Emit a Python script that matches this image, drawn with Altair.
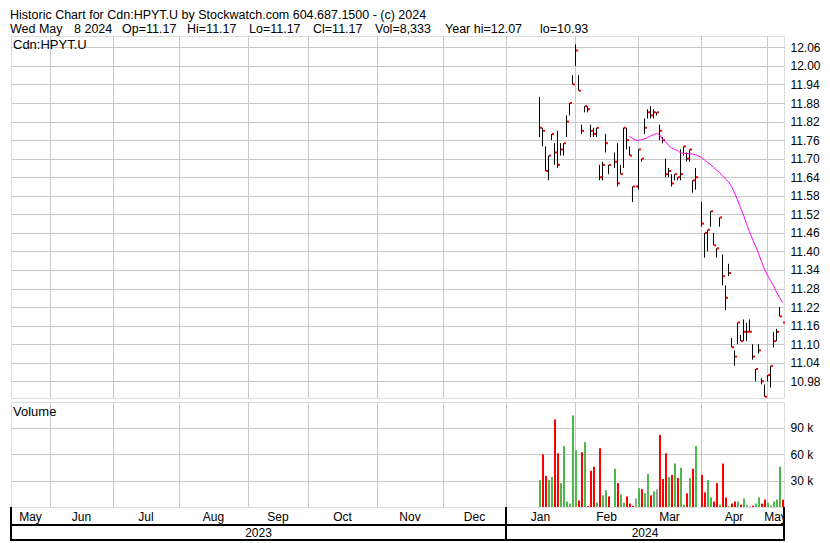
import numpy as np
import pandas as pd
import altair as alt

FONT = "Arial"
GRID = "#c8c8c8"

# ---------------- data ----------------
dates = [
    "2024-01-16", "2024-01-17", "2024-01-18", "2024-01-19", "2024-01-22", "2024-01-23",
    "2024-01-24", "2024-01-25", "2024-01-26", "2024-01-29", "2024-01-30", "2024-01-31",
    "2024-02-01", "2024-02-02", "2024-02-05", "2024-02-06", "2024-02-07", "2024-02-08",
    "2024-02-09", "2024-02-12", "2024-02-13", "2024-02-14", "2024-02-15", "2024-02-16",
    "2024-02-20", "2024-02-21", "2024-02-22", "2024-02-23", "2024-02-26", "2024-02-27",
    "2024-02-28", "2024-02-29",
    "2024-03-01", "2024-03-04", "2024-03-05", "2024-03-06", "2024-03-07", "2024-03-08",
    "2024-03-11", "2024-03-12", "2024-03-13", "2024-03-14", "2024-03-15", "2024-03-18",
    "2024-03-19", "2024-03-20", "2024-03-21", "2024-03-22", "2024-03-25", "2024-03-26",
    "2024-03-27", "2024-03-28",
    "2024-04-01", "2024-04-02", "2024-04-03", "2024-04-04", "2024-04-05", "2024-04-08",
    "2024-04-09", "2024-04-10", "2024-04-11", "2024-04-12", "2024-04-15", "2024-04-16",
    "2024-04-17", "2024-04-18", "2024-04-19", "2024-04-22", "2024-04-23", "2024-04-24",
    "2024-04-25", "2024-04-26", "2024-04-29", "2024-04-30",
    "2024-05-01", "2024-05-02", "2024-05-03", "2024-05-06", "2024-05-07", "2024-05-08",
]

high = [11.90, 11.80, 11.74, 11.71, 11.78, 11.75, 11.79, 11.75, 11.75, 11.84, 11.88, 11.97,
        12.07, 11.97, 11.81, 11.87, 11.87, 11.81, 11.80, 11.80, 11.68, 11.69, 11.78, 11.68,
        11.72, 11.75, 11.68, 11.80, 11.80, 11.74, 11.61, 11.61,
        11.73, 11.70, 11.83, 11.86, 11.87, 11.86, 11.85, 11.81, 11.77, 11.70, 11.67, 11.65,
        11.65, 11.64, 11.73, 11.74, 11.72, 11.73, 11.63, 11.67,
        11.56, 11.46, 11.47, 11.53, 11.46, 11.41, 11.51, 11.39, 11.29, 11.36, 11.12, 11.08,
        11.17, 11.13, 11.18, 11.17, 11.18, 11.10, 11.02, 11.10, 10.99, 10.97,
        11.00, 11.03, 11.14, 11.15, 11.22, 11.17]

low = [11.77, 11.74, 11.66, 11.63, 11.76, 11.68, 11.67, 11.71, 11.71, 11.77, 11.84, 11.94,
       12.00, 11.92, 11.78, 11.85, 11.85, 11.77, 11.77, 11.77, 11.63, 11.63, 11.72, 11.65,
       11.67, 11.61, 11.65, 11.67, 11.73, 11.71, 11.56, 11.61,
       11.60, 11.69, 11.78, 11.83, 11.83, 11.83, 11.84, 11.76, 11.75, 11.64, 11.64, 11.61,
       11.63, 11.63, 11.63, 11.71, 11.69, 11.69, 11.59, 11.60,
       11.48, 11.38, 11.40, 11.48, 11.42, 11.38, 11.48, 11.29, 11.21, 11.32, 11.09, 11.03,
       11.10, 11.11, 11.11, 11.11, 11.14, 11.05, 10.98, 11.07, 10.97, 10.93,
       10.98, 10.96, 11.09, 11.11, 11.19, 11.17]

close = [11.80, 11.79, 11.66, 11.71, 11.78, 11.72, 11.68, 11.73, 11.75, 11.82, 11.88, 11.94,
         12.05, 11.92, 11.79, 11.87, 11.86, 11.79, 11.78, 11.80, 11.64, 11.68, 11.75, 11.68,
         11.69, 11.62, 11.65, 11.80, 11.76, 11.71, 11.61, 11.61,
         11.73, 11.70, 11.80, 11.85, 11.84, 11.85, 11.85, 11.79, 11.76, 11.65, 11.66, 11.62,
         11.65, 11.64, 11.65, 11.74, 11.70, 11.73, 11.63, 11.64,
         11.49, 11.46, 11.47, 11.53, 11.42, 11.41, 11.51, 11.32, 11.25, 11.33, 11.09, 11.06,
         11.17, 11.11, 11.14, 11.14, 11.14, 11.06, 11.02, 11.08, 10.98, 10.93,
         11.00, 11.03, 11.11, 11.14, 11.19, 11.17]

volume = [30600, 59600, 35200, 30600, 34100, 99100, 60800, 27100, 68900, 6200, 3900, 103700,
          64300, 7400, 61900, 73500, 1000, 41000, 45700, 5000, 66600, 13200, 19000, 12000,
          43400, 27100, 14300, 5000, 12000, 3900, 1200, 9700,
          21300, 20100, 15500, 37500, 13200, 17800, 20100, 81700, 31700, 60800, 34100, 36400,
          49200, 32900, 44500, 2700, 15500, 32900, 43400, 68900,
          36400, 16600, 30600, 10800, 6200, 27100, 2700, 49200, 10800, 800, 3900, 6200,
          6200, 2700, 9700, 2700, 800, 1500, 3900, 10800, 3900, 8500,
          5000, 1500, 6200, 8500, 45700, 8333]

direction = ["up", "down", "down", "up", "up", "down", "down", "up", "up", "up", "up", "up",
             "up", "down", "down", "up", "down", "down", "down", "up", "down", "up", "up", "down",
             "up", "down", "up", "up", "down", "down", "down", "flat",
             "up", "down", "up", "up", "down", "up", "flat", "down", "down", "down", "up", "down",
             "up", "down", "up", "up", "down", "up", "down", "up",
             "down", "down", "up", "up", "down", "down", "up", "down", "down", "up", "down", "down",
             "up", "down", "up", "flat", "flat", "down", "up", "up", "down", "down",
             "up", "up", "up", "up", "up", "down"]

# moving average (magenta), from 2024-02-27 to the last day
ma_values = [11.772, 11.766, 11.760,
             11.759, 11.761, 11.764, 11.768, 11.773, 11.778, 11.781, 11.778, 11.762, 11.755,
             11.743, 11.735, 11.731, 11.726, 11.719, 11.717, 11.717, 11.716, 11.715, 11.713,
             11.704, 11.696, 11.688, 11.681, 11.672, 11.663, 11.656, 11.645, 11.634, 11.625,
             11.610, 11.590, 11.567, 11.542, 11.518, 11.490, 11.464, 11.440, 11.418, 11.394,
             11.367, 11.343,
             11.323, 11.306, 11.289, 11.269, 11.251, 11.235]

price_ticks = [10.98, 11.04, 11.10, 11.16, 11.22, 11.28, 11.34, 11.40, 11.46, 11.52,
               11.58, 11.64, 11.70, 11.76, 11.82, 11.88, 11.94, 12.00, 12.06]
volume_ticks = [30000, 60000, 90000]

month_names = ["May", "Jun", "Jul", "Aug", "Sep", "Oct", "Nov", "Dec",
               "Jan", "Feb", "Mar", "Apr", "May"]
month_starts = ["2023-05-01", "2023-06-01", "2023-07-01", "2023-08-01", "2023-09-01",
                "2023-10-01", "2023-11-01", "2023-12-01", "2024-01-01", "2024-02-01",
                "2024-03-01", "2024-04-01", "2024-05-01"]
year_names = ["2023", "2024"]
year_starts = ["2023-01-01", "2024-01-01"]

header_line1 = "Historic Chart for Cdn:HPYT.U by Stockwatch.com 604.687.1500 - (c) 2024"
header_line2 = [("Wed May", -1), ("8 2024", 63), ("Op=11.17", 111), ("Hi=11.17", 176),
                ("Lo=11.17", 238), ("Cl=11.17", 302), ("Vol=8,333", 364),
                ("Year hi=12.07", 434), ("lo=10.93", 529)]

# ---------------- layout ----------------
ORIGIN = np.datetime64("2024-01-01")


def slot(d):
    """trading-day (weekday) slot index relative to 2024-01-01"""
    return float(np.busday_count(ORIGIN, np.datetime64(d)))


X_MIN, X_MAX = -165.0, 92.67
PLOT_W = 773
PRICE_H = 362
VOL_H = 105
ROW1 = 18          # month row
ROW2 = 33          # bottom of year row (relative to the volume view's bottom)
HEAD_FS = 12.5

xs = alt.Scale(domain=[X_MIN, X_MAX], nice=False, zero=False)
ys = alt.Scale(domain=[10.926, 10.926 + PRICE_H / 309.2], nice=False, zero=False)
vs = alt.Scale(domain=[0, VOL_H / 26.5 * 30000], nice=False, zero=True)

df = pd.DataFrame({"date": dates, "high": high, "low": low, "close": close,
                   "volume": volume, "dir": direction})
df["slot"] = [slot(d) for d in dates]

ma_df = pd.DataFrame({"date": dates[len(dates) - len(ma_values):], "ma": ma_values})
ma_df["slot"] = [slot(d) for d in ma_df["date"]]

grid_slots = [slot(d) for d in month_starts if X_MIN <= slot(d) <= X_MAX]
grid_df = pd.DataFrame({"slot": grid_slots})


def spans(names, starts):
    rows = []
    for i, (name, s) in enumerate(zip(names, starts)):
        a = max(slot(s), X_MIN)
        b = min(slot(starts[i + 1]) if i + 1 < len(starts) else X_MAX, X_MAX)
        rows.append({"name": name, "mid": (a + b) / 2})
    return pd.DataFrame(rows)


months_df = spans(month_names, month_starts)
years_df = spans(year_names, year_starts)
sep_df = pd.DataFrame({"slot": [slot("2024-01-01")]})
one = pd.DataFrame({"k": [0]})


def txt(s, x, y, size=13, align="left"):
    return alt.Chart(pd.DataFrame({"t": [s]})).mark_text(
        align=align, baseline="middle", font=FONT, fontSize=size, color="black"
    ).encode(text="t:N", x=alt.value(x), y=alt.value(y))


def hline(y, x1, x2, w=2):
    return alt.Chart(one).mark_rule(color="black", strokeWidth=w).encode(
        x=alt.value(x1), x2=alt.value(x2), y=alt.value(y))


def vline(x, y1, y2, w=2):
    return alt.Chart(one).mark_rule(color="black", strokeWidth=w).encode(
        x=alt.value(x), y=alt.value(y1), y2=alt.value(y2))


# ---------------- price panel ----------------
vgrid = alt.Chart(grid_df).transform_calculate(gx="datum.slot + 0.167").mark_rule(
    color=GRID, strokeWidth=1
).encode(x=alt.X("gx:Q", scale=xs, axis=None))

yaxis = alt.Axis(orient="right", values=price_ticks, format=".2f", grid=True,
                 gridColor=GRID, gridWidth=1, ticks=False, domain=False,
                 labelPadding=6, labelFont=FONT, labelFontSize=12, labelColor="black",
                 title=None, labelOverlap=False, labelFlush=False)

hl = alt.Chart(df).transform_calculate(xl="datum.slot + 0.167").mark_rule(
    color="black", strokeWidth=1
).encode(
    x=alt.X("xl:Q", scale=xs, axis=None),
    y=alt.Y("high:Q", scale=ys, axis=yaxis),
    y2="low:Q",
)

cl = alt.Chart(df).transform_calculate(
    xa="datum.slot + 0.333", xb="datum.slot + 1.0"
).mark_rule(color="#ff0000", strokeWidth=2).encode(
    x=alt.X("xa:Q", scale=xs, axis=None),
    x2="xb:Q",
    y=alt.Y("close:Q", scale=ys, axis=yaxis),
)

ma = alt.Chart(ma_df).transform_calculate(xm="datum.slot + 0.167").mark_line(
    color="#ff00ff", strokeWidth=1
).encode(
    x=alt.X("xm:Q", scale=xs, axis=None),
    y=alt.Y("ma:Q", scale=ys, axis=yaxis),
)

header = [txt(header_line1, -1, -21.5, HEAD_FS)] + \
         [txt(s, x, -7.5, HEAD_FS) for s, x in header_line2]

price = alt.layer(
    vgrid, hl, cl, ma, txt("Cdn:HPYT.U", 2, 9), *header
).properties(width=PLOT_W, height=PRICE_H)

# ---------------- volume panel + month / year rows ----------------
vaxis = alt.Axis(orient="right", values=volume_ticks, grid=True, gridColor=GRID,
                 gridWidth=1, ticks=False, domain=False, labelPadding=6,
                 labelFont=FONT, labelFontSize=12, labelColor="black", title=None,
                 labelExpr="datum.value / 1000 + ' k'", labelOverlap=False,
                 labelFlush=False)

vbars = alt.Chart(df).transform_calculate(
    va="datum.slot", vb="datum.slot + 0.667"
).mark_bar().encode(
    x=alt.X("va:Q", scale=xs, axis=None),
    x2="vb:Q",
    y=alt.Y("volume:Q", scale=vs, axis=vaxis),
    y2=alt.datum(0),
    color=alt.Color("dir:N", scale=alt.Scale(domain=["up", "down", "flat"],
                                             range=["#4cb94c", "#ff0000", "#a0a0a0"]),
                    legend=None),
)

sep = alt.Chart(sep_df).mark_rule(color="black", strokeWidth=2).encode(
    x=alt.X("slot:Q", scale=xs, axis=None),
    y=alt.value(VOL_H), y2=alt.value(VOL_H + ROW2))

mon_txt = alt.Chart(months_df).mark_text(
    font=FONT, fontSize=12, color="black", baseline="middle"
).encode(x=alt.X("mid:Q", scale=xs, axis=None), text="name:N",
         y=alt.value(VOL_H + ROW1 / 2 + 0.5))

yr_txt = alt.Chart(years_df).mark_text(
    font=FONT, fontSize=12, color="black", baseline="middle"
).encode(x=alt.X("mid:Q", scale=xs, axis=None), text="name:N",
         y=alt.value(VOL_H + (ROW1 + ROW2) / 2 + 0.5))

mask = alt.Chart(one).mark_rect(color="white").encode(
    x=alt.value(PLOT_W + 1), x2=alt.value(PLOT_W + 16),
    y=alt.value(VOL_H + 1.5), y2=alt.value(VOL_H + ROW1 - 1.5))

vol = alt.layer(
    vgrid, vbars, txt("Volume", 2, 10),
    mon_txt, yr_txt, mask, sep,
    hline(VOL_H + ROW1, -1, PLOT_W + 1),
    hline(VOL_H + ROW2, -1, PLOT_W + 1),
    vline(0, VOL_H, VOL_H + ROW2 + 1),
    vline(PLOT_W, VOL_H, VOL_H + ROW2 + 1),
).properties(width=PLOT_W, height=VOL_H)

chart = alt.vconcat(price, vol, spacing=2).properties(
    padding={"left": 0, "top": 0, "right": 0, "bottom": 0},
    background="white",
).configure_view(stroke="black", strokeWidth=2).configure(font=FONT)

chart.save("out.html", embed_options={"renderer": "svg", "actions": False})
